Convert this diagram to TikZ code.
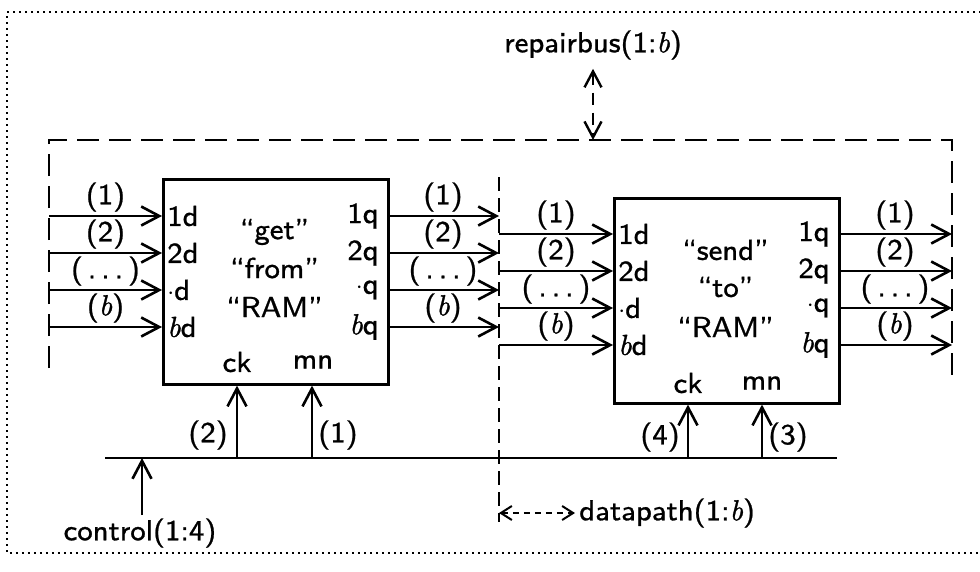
\documentclass[tikz,border=0pt]{standalone}
\usepackage{fontspec}
\setsansfont{lmsans8-regular.otf}[FakeBold=0.8]
\newfontfamily\ibfont{lmroman10-italic.otf}[FakeBold=1.2]
\newcommand{\vb}{{\ibfont b}}
\usetikzlibrary{arrows.meta,calc}
\begin{document}
\begin{tikzpicture}[x=1pt,y=-1pt,
  font=\sffamily\fontsize{29}{34}\selectfont,
  line width=2.6pt,
  arr/.style={-{Straight Barb[length=18pt,width=19pt,line width=2.6pt]}},
  sarr/.style={{Straight Barb[length=11pt,width=14pt,line width=2pt]}-{Straight Barb[length=11pt,width=14pt,line width=2pt]}},
  barr/.style={{Straight Barb[length=16pt,width=17pt,line width=2.4pt]}-{Straight Barb[length=16pt,width=17pt,line width=2.4pt]}},
  lbl/.style={inner sep=0pt},
  blk/.style={draw, line width=2.6pt, minimum width=225pt, minimum height=205pt, inner sep=0pt, anchor=north west},
  bigdash/.style={line width=2.8pt, dash pattern=on 22pt off 10pt},
  middash/.style={line width=2.2pt, dash pattern=on 14pt off 7pt},
  frame/.style={line width=1.8pt, dash pattern=on 1.8pt off 4.2pt},
]
\useasboundingbox (0,0) rectangle (980,571);
% outer dotted frame (right side lies beyond the picture)
\draw[frame] (981,12) -- (7,12) -- (7,553) -- (981,553);
% dashed enclosure
\draw[bigdash] (49,368) -- (49,140) -- (952,140) -- (952,385);
\draw[middash] (499,177) -- (499,522);
% blocks
\node[blk] (g) at (162,178) {};
\node[blk] (s) at (613,197) {};
% block texts
\node[lbl] (gt1) at (274.5,232) {``get''};
\node[lbl] (gt2) at (274.5,268) {``from''};
\node[lbl] (gt3) at (274.5,307) {``RAM''};
\node[lbl] (st1) at (725.5,250) {``send''};
\node[lbl] (st2) at (725.5,287) {``to''};
\node[lbl] (st3) at (725.5,327) {``RAM''};
\node[lbl] (gck) at (237,362) {ck};
\node[lbl] (gmn) at (313,362) {mn};
\node[lbl] (sck) at (688,383) {ck};
\node[lbl] (smn) at (762,383) {mn};
% data ports
\foreach \t/\pd/\pq [count=\i from 0] in {(1)/1d/1q,(2)/2d/2q,(\,.\,.\,.\,)/{$\cdot$d}/{$\cdot$q},(\vb)/{\vb d}/{\vb q}}{
  \pgfmathsetmacro\ya{216+37*\i}
  \pgfmathsetmacro\yb{234+37*\i}
  \coordinate (gi\i) at (49,\ya);
  \coordinate (go\i) at (499,\ya);
  \coordinate (si\i) at (499,\yb);
  \coordinate (so\i) at (952,\yb);
  \draw[arr] (gi\i) -- (g.west |- gi\i);
  \draw[arr] (g.east |- go\i) -- (go\i);
  \draw[arr] (si\i) -- (s.west |- si\i);
  \draw[arr] (s.east |- so\i) -- (so\i);
  \node[lbl] (gil\i) at (105.5,\ya-19) {\t};
  \node[lbl] (gol\i) at (443,\ya-19) {\t};
  \node[lbl] (sil\i) at (556,\yb-19) {\t};
  \node[lbl] (sol\i) at (895,\yb-19) {\t};
  \node[lbl,anchor=west] (gpd\i) at (166,\ya) {\pd};
  \node[lbl,anchor=east] (gpq\i) at (380,\ya) {\pq};
  \node[lbl,anchor=west] (spd\i) at (617,\yb) {\pd};
  \node[lbl,anchor=east] (spq\i) at (831,\yb) {\pq};
}
% control bus
\coordinate (cl0) at (105,458);
\coordinate (cl1) at (837,458);
\draw (cl0) -- (cl1);
\coordinate (c1) at (237,458);
\coordinate (c2) at (312,458);
\coordinate (c3) at (688,458);
\coordinate (c4) at (762,458);
\draw[arr] (c1) -- (g.south -| c1);
\draw[arr] (c2) -- (g.south -| c2);
\draw[arr] (c3) -- (s.south -| c3);
\draw[arr] (c4) -- (s.south -| c4);
\node[lbl,anchor=east] (l2) at (229,435) {(2)};
\node[lbl,anchor=west] (l1) at (317,435) {(1)};
\node[lbl,anchor=east] (l4) at (681,437) {(4)};
\node[lbl,anchor=west] (l3) at (767,437) {(3)};
\node[lbl] (ctl) at (140,533) {control(1:4)};
\coordinate (ctlp) at (142,458);
\draw[arr] (ctl.north -| ctlp) ++(0,-2) -- (ctlp);
% repair bus
\node[lbl] (rb) at (593,45) {repairbus(1:\vb)};
\coordinate (rbt) at (593,140);
\draw[barr, dash pattern=on 12pt off 8pt] ($(rb.south)+(0,8)$) -- (rbt);
% datapath
\node[lbl,anchor=west] (dp) at (578,513) {datapath(1:\vb)};
\coordinate (dpl) at (499,513);
\draw[sarr, dash pattern=on 6pt off 5pt] (dpl) -- ($(dp.west)+(-3,0)$);
\end{tikzpicture}
\end{document}
